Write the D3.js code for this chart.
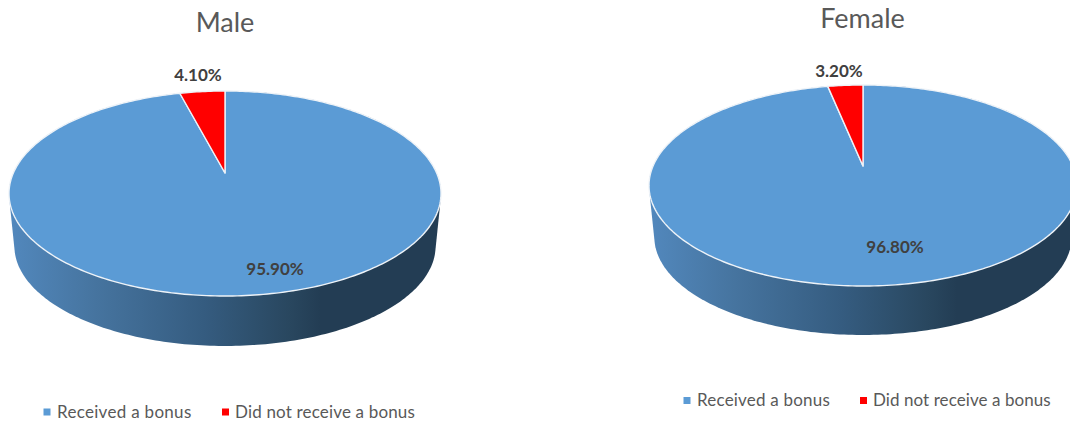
<!DOCTYPE html>
<html>
<head>
<meta charset="utf-8">
<script src="https://cdn.jsdelivr.net/npm/d3@7"></script>
<style>
  html, body { margin: 0; padding: 0; background: #fff; }
  svg { display: block; }
  text { font-family: Lato, "Open Sans", sans-serif; }
</style>
</head>
<body>
<svg id="chart" width="1070" height="421"></svg>
<script>
// Bonus receipt by gender, as two tilted 3D pies.
const categories = ["Received a bonus", "Did not receive a bonus"];
const maleValues = [95.9, 4.1];
const femaleValues = [96.8, 3.2];
const sliceColors = ["#5b9bd5", "#ff0000"];

// Layout of each pie: apex, far/near rim, half width, rim depth, text anchors.
const panels = [
  { title: "Male", values: maleValues, cx: 225, apexY: 173, topY: 91, bottomY: 296, halfWidth: 216, depth: 50,
    titleX: 225, titleY: 32, labels: [[275, 269], [198, 75]], legendY: 412, swatchX: [47, 225.5], textX: [57, 235], tracking: [0.3, 0.17] },
  { title: "Female", values: femaleValues, cx: 863, apexY: 166, topY: 85, bottomY: 286, halfWidth: 214, depth: 49,
    titleX: 862.5, titleY: 28, labels: [[895, 247], [839, 71]], legendY: 400.5, swatchX: [687, 863.5], textX: [697, 873], tracking: [0.2, 0.07] }
];

const svg = d3.select("#chart");

// Shading along the side wall, lighter on the left and darkening to the right.
const defs = svg.append("defs");
panels.forEach((p, i) => {
  const grad = defs.append("linearGradient")
    .attr("id", "wall" + i)
    .attr("gradientUnits", "userSpaceOnUse")
    .attr("x1", p.cx - p.halfWidth).attr("x2", p.cx + p.halfWidth)
    .attr("y1", 0).attr("y2", 0);
  [[0, "#5288bd"], [0.2, "#46749f"], [0.45, "#355c80"], [0.65, "#29475f"], [0.72, "#233d54"], [1, "#233d54"]]
    .forEach(([o, c]) => grad.append("stop").attr("offset", o).attr("stop-color", c));
});

const pie = d3.pie().sort(null).value(d => d);
const line = d3.line();

panels.forEach((p, i) => {
  // Perspective projection of the unit disc onto the page.
  const far = p.apexY - p.topY, near = p.bottomY - p.apexY;
  const k = (near - far) / (near + far);
  const B = far * (1 + k);
  const A = p.halfWidth * Math.sqrt(1 - k * k);
  const project = (angle, r = 1, shrink = 1, dy = 0) => {
    const u = r * Math.sin(angle), v = r * Math.cos(angle), w = 1 + k * v;
    return [p.cx + shrink * A * u / w, p.apexY + dy - shrink * B * v / w];
  };
  const arcPoints = (a0, a1, shrink, dy) => {
    const n = Math.max(2, Math.ceil((a1 - a0) * 60));
    return d3.range(n + 1).map(j => project(a0 + (a1 - a0) * j / n, 1, shrink, dy));
  };

  const g = svg.append("g");

  // Side wall: silhouette spanning the top rim and the smaller lower rim.
  const shrink = 0.975;
  const lowerDy = p.bottomY + p.depth - p.apexY - shrink * near;
  const hull = d3.polygonHull(
    arcPoints(0, 2 * Math.PI, 1, 0).concat(arcPoints(0, 2 * Math.PI, shrink, lowerDy)));
  g.append("path")
    .attr("d", line(hull) + "Z")
    .attr("fill", `url(#wall${i})`);

  // Top face slices.
  g.selectAll("path.slice")
    .data(pie(p.values))
    .join("path")
    .attr("class", "slice")
    .attr("d", d => line([project(0, 0)].concat(arcPoints(d.startAngle, d.endAngle, 1, 0))) + "Z")
    .attr("fill", (d, j) => sliceColors[j])
    .attr("stroke", "#eef3f8")
    .attr("stroke-width", 1.4)
    .attr("stroke-linejoin", "round");

  // Percentage labels.
  g.selectAll("text.value")
    .data(p.values)
    .join("text")
    .attr("class", "value")
    .attr("x", (d, j) => p.labels[j][0])
    .attr("y", (d, j) => p.labels[j][1])
    .attr("dy", "0.35em")
    .attr("text-anchor", "middle")
    .attr("font-size", 17)
    .attr("font-weight", 700)
    .attr("fill", "#404040")
    .text(d => d.toFixed(2) + "%");

  // Title.
  g.append("text")
    .attr("x", p.titleX).attr("y", p.titleY)
    .attr("text-anchor", "middle")
    .attr("font-size", 27)
    .attr("fill", "#595959")
    .text(p.title);

  // Legend.
  categories.forEach((name, j) => {
    g.append("rect")
      .attr("x", p.swatchX[j] - 3.5).attr("y", p.legendY - 3.5)
      .attr("width", 7).attr("height", 7)
      .attr("fill", sliceColors[j]);
    g.append("text")
      .attr("x", p.textX[j]).attr("y", p.legendY)
      .attr("dy", "0.35em")
      .attr("font-size", 17)
      .attr("letter-spacing", p.tracking[j])
      .attr("fill", "#595959")
      .text(name);
  });
});
</script>
</body>
</html>
